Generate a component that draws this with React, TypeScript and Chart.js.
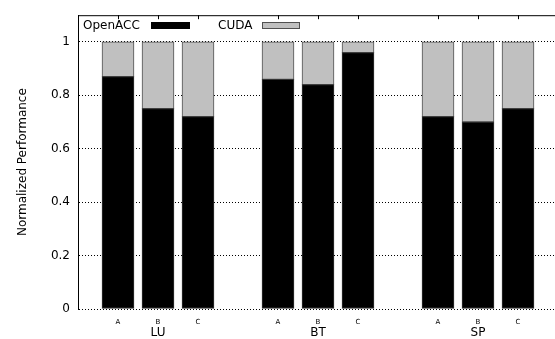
import React, { useEffect, useRef } from 'react';
import { Chart, registerables } from 'chart.js';

Chart.register(...registerables);

const groups = ['LU', 'BT', 'SP'];
const sizes = ['A', 'B', 'C'];
const xPositions = [0, 1, 2, 4, 5, 6, 8, 9, 10];
const openacc = [0.87, 0.75, 0.72, 0.86, 0.84, 0.96, 0.72, 0.7, 0.75];
const cuda = [0.13, 0.25, 0.28, 0.14, 0.16, 0.04, 0.28, 0.3, 0.25];
const seriesLabels = ['OpenACC', 'CUDA'];
const yTitle = 'Normalized Performance';

const FONT = '"DejaVu Sans", "Liberation Sans", sans-serif';
const GRAY = '#c0c0c0';

const framePlugin = {
  id: 'gnuFrame',
  afterDraw(chart: any) {
    const { ctx, chartArea } = chart;
    const { left, right, top } = chartArea;
    const xs = chart.scales.x;
    ctx.save();
    ctx.strokeStyle = '#000';
    ctx.lineWidth = 1;
    ctx.beginPath();
    ctx.moveTo(left, top + 0.5);
    ctx.lineTo(right, top + 0.5);
    xPositions.forEach((v) => {
      const px = Math.round(xs.getPixelForValue(v)) + 0.5;
      ctx.moveTo(px, top);
      ctx.lineTo(px, top + 4);
    });
    ctx.stroke();

    // legend (text then sample box)
    ctx.font = `12px ${FONT}`;
    ctx.textBaseline = 'alphabetic';
    ctx.textAlign = 'left';
    ctx.fillStyle = '#000';
    ctx.fillText(chart.data.datasets[0].label, 83, 29);
    ctx.fillStyle = '#000';
    ctx.fillRect(151, 22, 39, 7);
    ctx.fillText(chart.data.datasets[1].label, 218, 29);
    ctx.fillStyle = GRAY;
    ctx.fillRect(262, 22, 38, 7);
    ctx.strokeStyle = '#505050';
    ctx.strokeRect(262.5, 22.5, 37, 6);

    // group labels
    ctx.fillStyle = '#000';
    ctx.textAlign = 'center';
    ctx.font = `12px ${FONT}`;
    groups.forEach((g, i) => {
      const px = xs.getPixelForValue(xPositions[i * 3 + 1]);
      ctx.fillText(g, px, 336);
    });
    ctx.restore();
  },
};

export default function App() {
  const ref = useRef<HTMLCanvasElement>(null);
  useEffect(() => {
    if (!ref.current) return;
    const chart = new Chart(ref.current, {
      type: 'bar',
      data: {
        datasets: [
          {
            label: seriesLabels[0],
            data: xPositions.map((x, i) => ({ x, y: openacc[i] })),
            backgroundColor: '#000',
            borderColor: '#333',
            borderWidth: 1,
            borderSkipped: false,
            barThickness: 32,
          },
          {
            label: seriesLabels[1],
            data: xPositions.map((x, i) => ({ x, y: cuda[i] })),
            backgroundColor: GRAY,
            borderColor: '#505050',
            borderWidth: 1,
            borderSkipped: false,
            barThickness: 32,
          },
        ],
      },
      options: {
        responsive: false,
        animation: false,
        layout: { padding: { top: 12, left: 0, right: 0, bottom: 0 } },
        plugins: { legend: { display: false }, tooltip: { enabled: false } },
        scales: {
          x: {
            type: 'linear',
            stacked: true,
            offset: false,
            min: -1,
            max: 10.925,
            afterFit: (s: any) => {
              s.height = 30;
              s.paddingLeft = 0;
              s.paddingRight = 0;
            },
            border: { display: false },
            grid: { display: false, drawTicks: false, offset: false },
            ticks: {
              stepSize: 1,
              autoSkip: false,
              includeBounds: false,
              maxRotation: 0,
              padding: 9,
              color: '#000',
              font: { family: FONT, size: 7 },
              callback: (v: any) => {
                const i = xPositions.indexOf(Number(v));
                return i >= 0 ? sizes[i % 3] : '';
              },
            },
          },
          y: {
            stacked: true,
            min: 0,
            max: 1.1,
            afterFit: (s: any) => {
              s.width = 78;
            },
            grid: {
              color: '#000',
              lineWidth: 1,
              drawTicks: false,
            },
            border: { display: true, color: '#000', width: 1, dash: [1, 2] } as any,
            ticks: {
              stepSize: 0.2,
              includeBounds: false,
              padding: 8,
              color: '#000',
              font: { family: FONT, size: 12 },
              callback: (v: any) => (Math.abs(v - Math.round(v)) < 1e-9 ? String(Math.round(v)) : Number(v).toFixed(1)),
            },
            title: {
              display: true,
              text: yTitle,
              color: '#000',
              font: { family: FONT, size: 12 },
              padding: { top: 16, bottom: 0 },
            },
          },
        },
      },
      plugins: [framePlugin],
    });
    return () => chart.destroy();
  }, []);
  return (
    <div style={{ position: 'fixed', left: 0, top: 0, width: 555, height: 339, background: '#fff' }}>
      <canvas ref={ref} width={555} height={339} />
    </div>
  );
}
